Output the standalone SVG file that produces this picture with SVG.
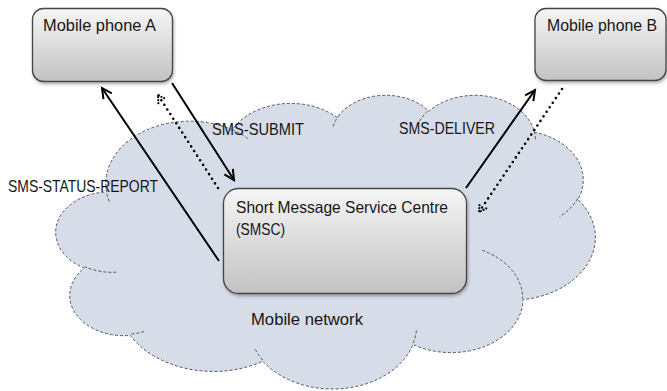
<svg xmlns="http://www.w3.org/2000/svg" width="667" height="391" viewBox="0 0 667 391">
<style>
.txt{font-family:"Liberation Sans",Arial,sans-serif;font-size:16.5px;fill:#161616}
.box{fill:url(#boxGrad);stroke:#454545;stroke-width:1.3;filter:url(#shadow)}
.cloud{fill:#D6DCE8;stroke:#555;stroke-width:1;stroke-dasharray:3 2}
.inner{fill:none;stroke:#555;stroke-width:1;stroke-dasharray:3 2}
.solid{stroke:#000;stroke-width:2;fill:none;marker-end:url(#arrow)}
.dotted{stroke:#000;stroke-width:2.6;fill:none;stroke-dasharray:0 5.5;stroke-linecap:round;marker-end:url(#dotArrow)}
</style>
<defs>
<linearGradient id="boxGrad" x1="0" y1="0" x2="0" y2="1">
<stop offset="0" stop-color="#F6F6F6"/>
<stop offset="1" stop-color="#C2C2C2"/>
</linearGradient>
<filter id="shadow" x="-10%" y="-10%" width="120%" height="130%">
<feDropShadow dx="1" dy="2" stdDeviation="1.5" flood-color="#000" flood-opacity="0.3"/>
</filter>
<marker id="arrow" markerUnits="userSpaceOnUse" markerWidth="14" markerHeight="14" refX="11" refY="6" orient="auto" overflow="visible">
<path d="M1,1 L11,6 L1,11" fill="none" stroke="#000" stroke-width="2"/>
</marker>
<marker id="dotArrow" markerUnits="userSpaceOnUse" markerWidth="12" markerHeight="12" refX="8" refY="5" orient="auto" overflow="visible">
<path d="M1,1 L8,5 L1,9" fill="none" stroke="#000" stroke-width="2.2" stroke-dasharray="0 3" stroke-linecap="round"/>
</marker>
</defs>

<g id="mobile-network">
<path class="cloud" d="M106.5,192.0 A83.95,62.46 0 0 1 232.1,129.7 A66.29,49.39 0 0 1 337.2,117.6 A54.26,40.40 0 0 1 428.9,111.2 A60.38,44.82 0 0 1 534.4,132.2 A66.29,49.43 0 0 1 577.9,199.4 A84.22,62.66 0 0 1 523.0,299.6 A71.91,53.47 0 0 1 413.0,344.5 A83.93,62.63 0 0 1 262.9,361.2 A95.97,71.65 0 0 1 130.2,335.4 A54.20,40.22 0 0 1 84.3,268.0 A54.01,40.40 0 0 1 106.5,192.0 Z"/>
<path class="inner" d="M116.3,272.2 A54.01,40.40 0 0 1 84.9,266.8 M144.1,331.5 A54.20,40.22 0 0 1 130.3,334.1 M262.8,360.0 A83.93,62.63 0 0 1 254.5,348.1 M416.4,330.5 A83.93,62.63 0 0 1 413.0,343.5 M482.3,250.3 A71.91,53.47 0 0 1 522.7,298.8 M577.6,198.6 A66.29,49.43 0 0 1 559.6,216.8 M534.4,131.2 A60.38,44.82 0 0 1 535.4,139.8 M419.5,121.2 A60.38,44.82 0 0 1 428.7,110.2 M333.2,126.4 A54.26,40.40 0 0 1 338.4,116.0 M232.0,129.6 A83.95,62.46 0 0 1 248.2,138.8 M109.3,201.6 A83.95,62.46 0 0 1 106.5,192.0"/>
<text class="txt" x="251" y="325" textLength="112" lengthAdjust="spacingAndGlyphs">Mobile network</text>
</g>

<g id="connectors">
<line class="solid" x1="219" y1="261" x2="102" y2="88"/>
<line class="solid" x1="172" y1="83" x2="234" y2="180"/>
<line class="dotted" x1="218" y1="188" x2="158" y2="95"/>
<line class="solid" x1="466" y1="188" x2="535" y2="90"/>
<line class="dotted" x1="562" y1="89" x2="479" y2="212"/>
<text class="txt" x="212" y="135" textLength="92" lengthAdjust="spacingAndGlyphs">SMS-SUBMIT</text>
<text class="txt" x="399" y="134" textLength="96" lengthAdjust="spacingAndGlyphs">SMS-DELIVER</text>
<text class="txt" x="8" y="192" textLength="150" lengthAdjust="spacingAndGlyphs">SMS-STATUS-REPORT</text>
</g>

<g id="phone-a">
<rect class="box" x="32.5" y="8.5" width="140" height="73" rx="11"/>
<text class="txt" x="43" y="31" textLength="113" lengthAdjust="spacingAndGlyphs">Mobile phone A</text>
</g>

<g id="phone-b">
<rect class="box" x="535" y="8.5" width="131" height="72" rx="11"/>
<text class="txt" x="547" y="31" textLength="110" lengthAdjust="spacingAndGlyphs">Mobile phone B</text>
</g>

<g id="smsc">
<rect class="box" x="223.5" y="188.5" width="243" height="105" rx="15"/>
<text class="txt" x="236" y="213" textLength="212" lengthAdjust="spacingAndGlyphs">Short Message Service Centre</text>
<text class="txt" x="236" y="235" textLength="49" lengthAdjust="spacingAndGlyphs">(SMSC)</text>
</g>
</svg>
